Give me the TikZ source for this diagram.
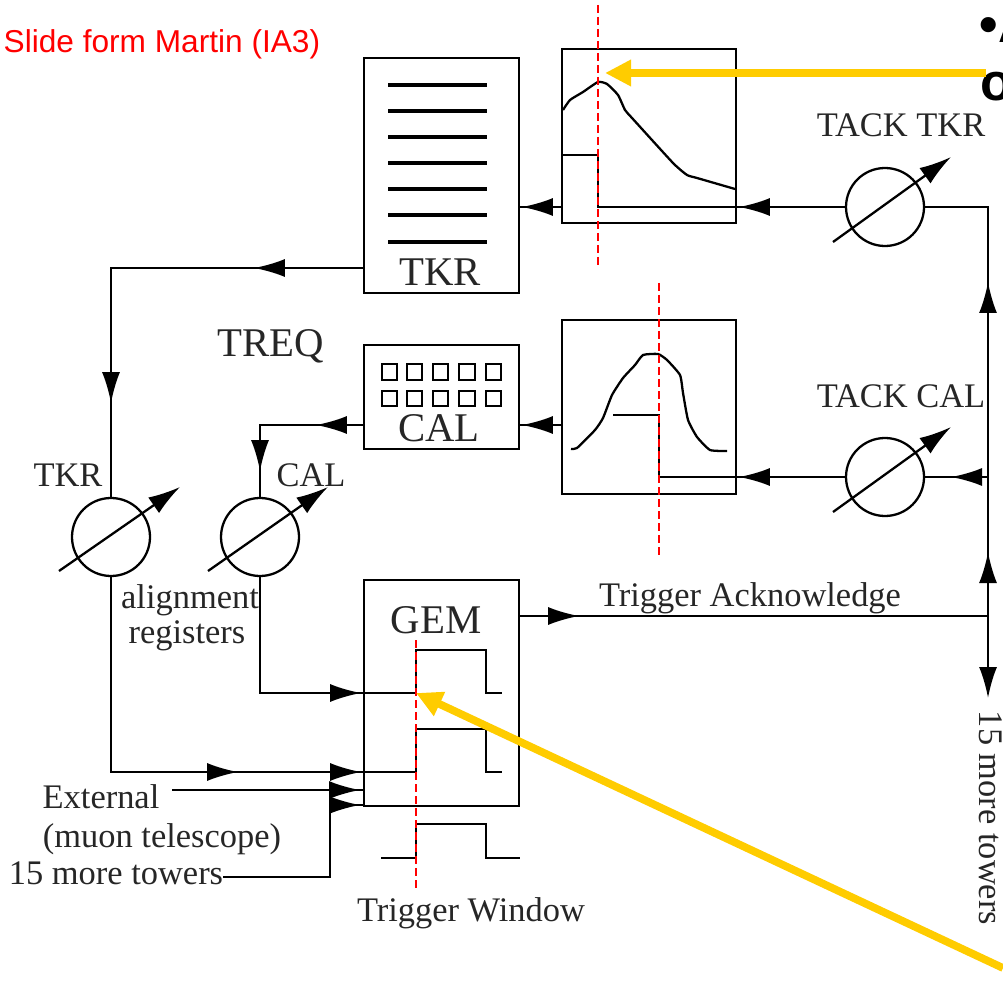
\documentclass[tikz,border=0pt]{standalone}
\usepackage{fontspec}
\setmainfont{Liberation Serif}
\newfontfamily\slidefont{Liberation Sans}
\usetikzlibrary{arrows.meta,decorations.markings}

\definecolor{slideyellow}{RGB}{255,204,0}
\tikzset{
    wire/.style={line width=.65pt, black},
    box/.style={draw=black, line width=.65pt, inner sep=0pt},
    meter/.style={circle, draw=black, line width=.65pt, inner sep=0pt, minimum size=.78cm},
    dial/.style={line width=.65pt, black, -{Latex[length=3.2mm,width=1.9mm]}},
    midhead/.style={postaction={decorate,decoration={markings,mark=at position #1 with {\arrow{Latex[length=3.1mm,width=1.8mm]}}}}},
    endhead/.style={-{Latex[length=3.1mm,width=1.8mm]}},
    redmark/.style={red, line width=.6pt, dash pattern=on .8mm off .4mm},
    pointer/.style={slideyellow, line width=2.2pt, -{Triangle[length=2.6mm,width=2.5mm]}},
    smalltext/.style={inner sep=0pt, text=black!85, font=\fontsize{9.8}{12}\selectfont},
    bigtext/.style={inner sep=0pt, text=black!85, font=\fontsize{11.6}{14}\selectfont},
}

\begin{document}
\begin{tikzpicture}[x=1cm, y=-1cm]

        \clip[use as bounding box] (0, 0) rectangle (10.03, 9.91);

        \node[inner sep=0pt, text=red, anchor=west, font=\fontsize{9}{11}\selectfont\slidefont] (slidenote) at(.03, .44){Slide form Martin (IA3)};
        \node[inner sep=0pt, anchor=west, font=\fontsize{15}{18}\selectfont\slidefont\bfseries] (bulletline) at(9.79, .24){\textbullet A};
        \node[inner sep=0pt, anchor=west, font=\fontsize{15}{18}\selectfont\slidefont\bfseries] (secondline) at(9.80, .865){o};

        % boxes
        \node[box, minimum width=1.55cm, minimum height=2.35cm] (tkr) at(4.415, 1.755){};
        \node[box, minimum width=1.55cm, minimum height=1.04cm] (cal) at(4.415, 3.97){};
        \node[box, minimum width=1.55cm, minimum height=2.26cm] (gem) at(4.415, 6.93){};
        \node[box, minimum width=1.74cm, minimum height=1.74cm] (pulsetkr) at(6.49, 1.36){};
        \node[box, minimum width=1.74cm, minimum height=1.74cm] (pulsecal) at(6.49, 4.07){};

        \node[meter] (metertack) at(8.85, 2.07){};
        \node[meter] (metercalack) at(8.85, 4.77){};
        \node[meter] (metertkr) at(1.11, 5.37){};
        \node[meter] (metercal) at(2.60, 5.37){};

        % layers of the tracker
        \draw[line width=1.1pt, black](3.88, .85) to (4.87, .85);
        \draw[line width=1.1pt, black](3.88, 1.11) to (4.87, 1.11);
        \draw[line width=1.1pt, black](3.88, 1.37) to (4.87, 1.37);
        \draw[line width=1.1pt, black](3.88, 1.63) to (4.87, 1.63);
        \draw[line width=1.1pt, black](3.88, 1.89) to (4.87, 1.89);
        \draw[line width=1.1pt, black](3.88, 2.15) to (4.87, 2.15);
        \draw[line width=1.1pt, black](3.88, 2.42) to (4.87, 2.42);

        % crystals
        \draw[wire](3.82, 3.64) rectangle (3.97, 3.80);
        \draw[wire](4.07, 3.64) rectangle (4.22, 3.80);
        \draw[wire](4.33, 3.64) rectangle (4.48, 3.80);
        \draw[wire](4.59, 3.64) rectangle (4.75, 3.80);
        \draw[wire](4.86, 3.64) rectangle (5.01, 3.80);
        \draw[wire](3.82, 3.91) rectangle (3.97, 4.06);
        \draw[wire](4.07, 3.91) rectangle (4.22, 4.06);
        \draw[wire](4.33, 3.91) rectangle (4.48, 4.06);
        \draw[wire](4.59, 3.91) rectangle (4.75, 4.06);
        \draw[wire](4.86, 3.91) rectangle (5.01, 4.06);

        % dials
        \draw[dial]([shift={(-.52, .35)}]metertack.center) to ([shift={(.66, -.50)}]metertack.center);
        \draw[dial]([shift={(-.52, .35)}]metercalack.center) to ([shift={(.66, -.50)}]metercalack.center);
        \draw[dial]([shift={(-.52, .34)}]metertkr.center) to ([shift={(.69, -.50)}]metertkr.center);
        \draw[dial]([shift={(-.52, .34)}]metercal.center) to ([shift={(.68, -.50)}]metercal.center);

        % signals in the two shaper boxes
        \draw[wire] plot[smooth, tension=.3] coordinates {(5.63, 1.10) (5.70, 1.00) (5.83, .92) (5.98, .82) (6.07, .84) (6.18, .95) (6.25, 1.10) (6.32, 1.18) (6.73, 1.63) (6.87, 1.75) (6.97, 1.78) (7.35, 1.89)};
        \draw[wire](5.62, 1.55) to (5.98, 1.55) to (5.98, 2.07) to (7.36, 2.07);

        \draw[wire] plot[smooth, tension=.3] coordinates {(5.71, 4.49) (5.77, 4.48) (5.95, 4.30) (6.03, 4.18) (6.12, 3.95) (6.23, 3.78) (6.35, 3.65) (6.43, 3.55) (6.58, 3.54) (6.67, 3.60) (6.80, 3.75) (6.83, 3.93) (6.88, 4.20) (6.97, 4.37) (7.10, 4.50) (7.27, 4.51)};
        \draw[wire](6.13, 4.15) to (6.59, 4.15) to (6.59, 4.77) to (7.36, 4.77);

        % signals in the GEM
        \draw[wire](4.16, 6.93) to (4.16, 6.50) to (4.86, 6.50) to (4.86, 6.93) to (5.02, 6.93);
        \draw[wire](4.16, 7.72) to (4.16, 7.29) to (4.86, 7.29) to (4.86, 7.72) to (5.02, 7.72);
        \draw[wire](3.81, 8.58) to (4.16, 8.58) to (4.16, 8.24) to (4.86, 8.24) to (4.86, 8.58) to (5.20, 8.58);

        % connections
        \coordinate (busturn) at(9.88, 2.07);
        \coordinate (busack) at(9.88, 6.16);
        \coordinate (busend) at(9.88, 6.98);
        \coordinate (buscal) at(9.88, 4.77);
        \coordinate (tkrturn) at(1.11, 2.68);
        \coordinate (calturn) at(2.60, 4.25);
        \coordinate (tkrin) at(1.11, 7.72);
        \coordinate (tkrgem) at(4.16, 7.72);
        \coordinate (calin) at(2.60, 6.93);
        \coordinate (calgem) at(4.16, 6.93);
        \coordinate (externalstart) at(1.72, 7.90);
        \coordinate (externalgem) at(3.64, 7.90);
        \coordinate (towersstart) at(2.23, 8.77);
        \coordinate (towersturn) at(3.30, 8.77);
        \coordinate (towersup) at(3.30, 8.05);
        \coordinate (towersgem) at(3.64, 8.05);

        \draw[wire, midhead=1.06cm](metertack.west) to (metertack.west -| pulsetkr.east);
        \draw[wire, midhead=.39cm](metertack.west -| pulsetkr.west) to (metertack.west -| tkr.east);
        \draw[wire, midhead=1.09cm, midhead=3.87cm](tkrturn -| tkr.west) to (tkrturn) to (metertkr.north);
        \draw[wire, midhead=.47cm, midhead=1.49cm](calturn -| cal.west) to (calturn) to (metercal.north);
        \draw[wire, midhead=3.22cm, midhead=4.45cm](metertkr.south) to (tkrin) to (tkrgem);
        \draw[wire, midhead=2.17cm](metercal.south) to (calin) to (calgem);
        \draw[wire, midhead=1.88cm](externalstart) to (externalgem);
        \draw[wire, midhead=2.09cm](towersstart) to (towersturn) to (towersup) to (towersgem);
        \draw[wire, midhead=.59cm](busack -| gem.east) to (busack);
        \draw[wire, midhead=.64cm, midhead=3.34cm](busack) to (busturn) to (metertack.east);
        \draw[wire, endhead](busack) to (busend);
        \draw[wire, midhead=.37cm](buscal) to (metercalack.east);
        \draw[wire, midhead=1.06cm](metercalack.west) to (metercalack.west -| pulsecal.east);
        \draw[wire, midhead=.39cm](calturn -| pulsecal.west) to (calturn -| cal.east);

        % trigger time marks
        \draw[redmark](5.98, .05) to (5.98, 2.65);
        \draw[redmark](6.59, 2.83) to (6.59, 5.56);
        \draw[redmark](4.16, 6.40) to (4.16, 8.88);

        % texts
        \node[bigtext] (tkrtext) at(4.40, 2.72){TKR};
        \node[bigtext] (caltext) at(4.39, 4.28){CAL};
        \node[bigtext] (gemtext) at(4.36, 6.20){GEM};
        \node[bigtext] (treqtext) at(2.71, 3.46){TREQ};
        \node[smalltext] (tacktkrtext) at(9.01, 1.25){TACK TKR};
        \node[smalltext] (tackcaltext) at(9.01, 3.96){TACK CAL};
        \node[smalltext] (alignkrtext) at(.68, 4.75){TKR};
        \node[smalltext] (aligncaltext) at(3.11, 4.75){CAL};
        \node[smalltext] (alignmenttext) at(1.90, 6.00){alignment};
        \node[smalltext] (registerstext) at(1.87, 6.36){registers};
        \node[smalltext] (externaltext) at(1.01, 7.97){External};
        \node[smalltext] (muontext) at(1.62, 8.39){(muon telescope)};
        \node[smalltext] (towerstext) at(1.16, 8.73){15 more towers};
        \node[smalltext] (windowtext) at(4.71, 9.13){Trigger Window};
        \node[smalltext] (acktext) at(7.50, 5.98){Trigger Acknowledge};
        \node[smalltext, rotate=-90] (busttext) at(9.91, 8.18){15 more towers};

        % slide pointers
        \coordinate (pointeronestart) at(9.855, .73);
        \coordinate (pointeronetip) at(6.05, .73);
        \coordinate (pointertwostart) at(10.03, 9.68);
        \coordinate (pointertwotip) at(4.16, 6.93);
        \draw[pointer](pointeronestart) to (pointeronetip);
        \draw[pointer](pointertwostart) to (pointertwotip);

\end{tikzpicture}
\end{document}
